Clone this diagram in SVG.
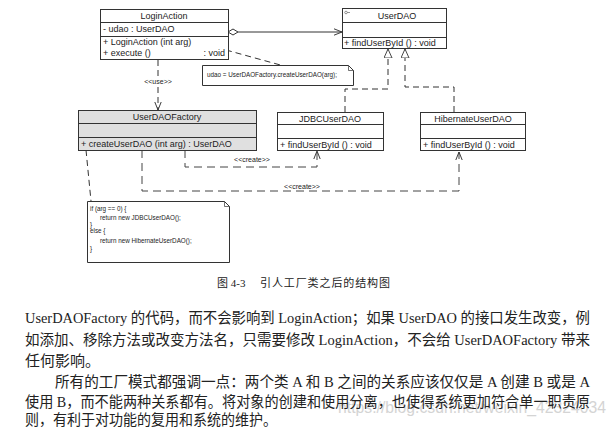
<svg xmlns="http://www.w3.org/2000/svg" width="616" height="427" viewBox="0 0 616 427">
<style>
.box{fill:#fff;stroke:#333;stroke-width:1}
.gbox{fill:#e0e0e0;stroke:#333;stroke-width:1}
.t{font-family:"Liberation Sans",Arial,sans-serif;font-size:9px;fill:#222}
.tc{font-family:"Liberation Sans",Arial,sans-serif;font-size:9px;fill:#222;text-anchor:middle}
.small{font-family:"Liberation Sans",Arial,sans-serif;font-size:6.3px;fill:#222}
.lbl{font-family:"Liberation Sans",Arial,sans-serif;font-size:7px;fill:#222;text-anchor:middle}
.ln{fill:none;stroke:#333;stroke-width:1}
.dash{fill:none;stroke:#333;stroke-width:1;stroke-dasharray:6,4}
.dash2{fill:none;stroke:#444;stroke-width:1;stroke-dasharray:8,5}
.body{font-family:"Liberation Serif","Noto Sans CJK SC",serif;font-size:15px;fill:#222}
.cap{font-family:"Liberation Serif","Noto Sans CJK SC",serif;font-size:11px;fill:#222}
</style>
<defs>
<marker id="open" viewBox="0 0 10 10" refX="10" refY="5" markerWidth="8" markerHeight="8" orient="auto" markerUnits="userSpaceOnUse">
<path d="M0,1 L10,5 L0,9" fill="none" stroke="#333" stroke-width="1.2"/>
</marker>
<marker id="tri" viewBox="0 0 10 10" refX="10" refY="5" markerWidth="9" markerHeight="9" orient="auto" markerUnits="userSpaceOnUse">
<path d="M0,0.5 L10,5 L0,9.5 Z" fill="#fff" stroke="#333" stroke-width="1"/>
</marker>
</defs>
<rect width="616" height="427" fill="#fff"/>

<g id="connectors">
<!-- aggregation -->
<path d="M228,32 L233,29 L238,32 L233,35 Z" fill="#fff" stroke="#333"/>
<line class="ln" x1="238" y1="32" x2="342" y2="32" marker-end="url(#open)"/>
<!-- use -->
<line class="dash" x1="158" y1="60" x2="158" y2="76"/>
<line class="dash" x1="158" y1="87" x2="158" y2="110" marker-end="url(#open)"/>
<text class="lbl" x="158" y="84">&lt;&lt;use&gt;&gt;</text>
<!-- note link -->
<line class="dash" x1="197" y1="42" x2="284" y2="66"/>
<!-- realizations -->
<polyline class="dash" points="345,112 345,89 388,89 388,49" marker-end="url(#tri)"/>
<polyline class="dash" points="454,112 454,87 405,87 405,49" marker-end="url(#tri)"/>
<!-- create 1 -->
<polyline class="dash2" points="185,150 185,167 317,167 317,151" marker-end="url(#open)"/>
<text class="lbl" x="252" y="162">&lt;&lt;create&gt;&gt;</text>
<!-- create 2 -->
<polyline class="dash2" points="142,150 142,191 459,191 459,152" marker-end="url(#open)"/>
<text class="lbl" x="302" y="189">&lt;&lt;create&gt;&gt;</text>
<!-- factory note link -->
<line class="dash" x1="86" y1="150" x2="91" y2="201"/>
</g>

<g id="LoginAction">
<rect class="box" x="100.5" y="9.5" width="128" height="50"/>
<line class="ln" x1="100.5" y1="22.5" x2="228.5" y2="22.5"/>
<line class="ln" x1="100.5" y1="36.5" x2="228.5" y2="36.5"/>
<text class="tc" x="164" y="19">LoginAction</text>
<text class="t" x="103" y="32">-  udao  : UserDAO</text>
<text class="t" x="103" y="45">+  LoginAction (int arg)</text>
<text class="t" x="103" y="56">+  execute ()</text>
<text class="t" x="225" y="56" text-anchor="end">: void</text>
</g>

<g id="UserDAO">
<rect class="box" x="342.5" y="8.5" width="104" height="40"/>
<line class="ln" x1="342.5" y1="22.5" x2="446.5" y2="22.5"/>
<line class="ln" x1="342.5" y1="37.5" x2="446.5" y2="37.5"/>
<circle cx="346" cy="12.5" r="1.3" fill="none" stroke="#555" stroke-width="0.6"/>
<line x1="347.3" y1="12.5" x2="350" y2="12.5" stroke="#555" stroke-width="0.6"/>
<text class="tc" x="397" y="19">UserDAO</text>
<text class="t" x="344" y="46">+  findUserById ()  : void</text>
</g>

<g id="note1">
<path d="M202.5,65.5 L348.5,65.5 L353.5,70.5 L353.5,85.5 L202.5,85.5 Z" fill="#fff" stroke="#333"/>
<path d="M348.5,65.5 L348.5,70.5 L353.5,70.5" fill="none" stroke="#333" stroke-width="0.7"/>
<text class="small" x="207" y="77">udao = UserDAOFactory.createUserDAO(arg);</text>
</g>

<g id="UserDAOFactory">
<rect class="gbox" x="78.5" y="110.5" width="178" height="40"/>
<line class="ln" x1="78.5" y1="123.5" x2="256.5" y2="123.5"/>
<line class="ln" x1="78.5" y1="137.5" x2="256.5" y2="137.5"/>
<text class="tc" x="167" y="120">UserDAOFactory</text>
<text class="t" x="81" y="147">+  createUserDAO (int arg)  : UserDAO</text>
</g>

<g id="JDBCUserDAO">
<rect class="box" x="277.5" y="112.5" width="106" height="38"/>
<line class="ln" x1="277.5" y1="124.5" x2="383.5" y2="124.5"/>
<line class="ln" x1="277.5" y1="138.5" x2="383.5" y2="138.5"/>
<text class="tc" x="330" y="122">JDBCUserDAO</text>
<text class="t" x="280" y="148">+  findUserById ()  : void</text>
</g>

<g id="HibernateUserDAO">
<rect class="box" x="420.5" y="112.5" width="105" height="38"/>
<line class="ln" x1="420.5" y1="124.5" x2="525.5" y2="124.5"/>
<line class="ln" x1="420.5" y1="138.5" x2="525.5" y2="138.5"/>
<text class="tc" x="473" y="122">HibernateUserDAO</text>
<text class="t" x="423" y="148">+  findUserById ()  : void</text>
</g>

<g id="note2">
<path d="M87.5,201.5 L224.5,201.5 L229.5,206.5 L229.5,262.5 L87.5,262.5 Z" fill="#fff" stroke="#333"/>
<path d="M224.5,201.5 L224.5,206.5 L229.5,206.5" fill="none" stroke="#333" stroke-width="0.7"/>
<text class="small" x="90" y="211">if (arg == 0) {</text>
<text class="small" x="100" y="220">return new JDBCUserDAO();</text>
<text class="small" x="90" y="227">}</text>
<text class="small" x="90" y="233">else {</text>
<text class="small" x="100" y="243">return new HibernateUserDAO();</text>
<text class="small" x="90" y="251">}</text>
</g>

<g id="caption">
<text class="cap" x="217" y="287">图 4-3</text>
<text class="cap" x="260" y="287" textLength="130" lengthAdjust="spacing">引人工厂类之后的结构图</text>
</g>

<g id="bodytext">
<text class="body" x="25" y="323" textLength="565" lengthAdjust="spacingAndGlyphs">UserDAOFactory 的代码，而不会影响到 LoginAction；如果 UserDAO 的接口发生改变，例</text>
<text class="body" x="25" y="345" textLength="565" lengthAdjust="spacingAndGlyphs">如添加、移除方法或改变方法名，只需要修改 LoginAction，不会给 UserDAOFactory 带来</text>
<text class="body" x="25" y="366" textLength="75" lengthAdjust="spacingAndGlyphs">任何影响。</text>
<text class="body" x="55" y="387" textLength="535" lengthAdjust="spacingAndGlyphs">所有的工厂模式都强调一点：两个类 A 和 B 之间的关系应该仅仅是 A 创建 B 或是 A</text>
<text x="338" y="413" font-family="'Liberation Sans',Arial,sans-serif" font-size="17" fill="#d4d4d4" textLength="268" lengthAdjust="spacingAndGlyphs">https://blog.csdn.net/weixin_42324034</text>
<text class="body" x="25" y="407" textLength="565" lengthAdjust="spacingAndGlyphs">使用 B，而不能两种关系都有。将对象的创建和使用分离，也使得系统更加符合单一职责原</text>
<text class="body" x="25" y="425" textLength="252" lengthAdjust="spacingAndGlyphs">则，有利于对功能的复用和系统的维护。</text>
</g>
</svg>
